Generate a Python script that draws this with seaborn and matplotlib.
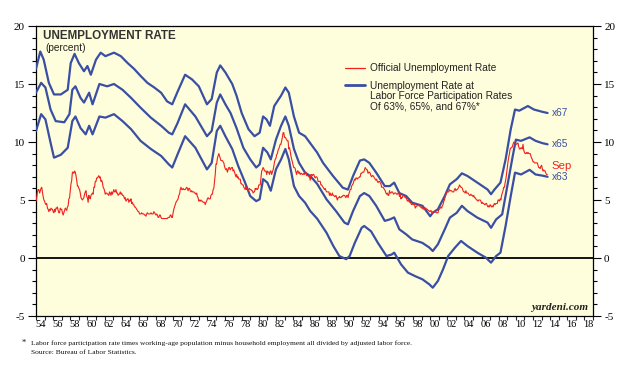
import numpy as np
import pandas as pd
import matplotlib
matplotlib.use("Agg")
import matplotlib.pyplot as plt
import seaborn as sns
from matplotlib.ticker import FixedLocator, MultipleLocator
from matplotlib.lines import Line2D

# ---------------- data ----------------
official_start = 1954
official_rate = [
    4.9, 5.2, 5.7, 5.9, 5.9, 5.6, 5.8, 6.0, 6.1, 5.7, 5.3, 5.0,   # 1954
    4.9, 4.7, 4.6, 4.7, 4.3, 4.2, 4.0, 4.2, 4.1, 4.3, 4.2, 4.2,   # 1955
    4.0, 3.9, 4.2, 4.0, 4.3, 4.3, 4.4, 4.1, 3.9, 3.9, 4.3, 4.2,   # 1956
    4.2, 3.9, 3.7, 3.9, 4.1, 4.3, 4.2, 4.1, 4.4, 4.5, 5.1, 5.2,   # 1957
    5.8, 6.4, 6.7, 7.4, 7.4, 7.3, 7.5, 7.4, 7.1, 6.7, 6.2, 6.2,   # 1958
    6.0, 5.9, 5.6, 5.2, 5.1, 5.0, 5.1, 5.2, 5.5, 5.7, 5.8, 5.3,   # 1959
    5.2, 4.8, 5.4, 5.2, 5.1, 5.4, 5.5, 5.6, 5.5, 6.1, 6.1, 6.6,   # 1960
    6.6, 6.9, 6.9, 7.0, 7.1, 6.9, 7.0, 6.6, 6.7, 6.5, 6.1, 6.0,   # 1961
    5.8, 5.5, 5.6, 5.6, 5.5, 5.5, 5.4, 5.7, 5.6, 5.4, 5.7, 5.5,   # 1962
    5.7, 5.9, 5.7, 5.7, 5.9, 5.6, 5.6, 5.4, 5.5, 5.5, 5.7, 5.5,   # 1963
    5.6, 5.4, 5.4, 5.3, 5.1, 5.2, 4.9, 5.0, 5.1, 5.1, 4.8, 5.0,   # 1964
    4.9, 5.1, 4.7, 4.8, 4.6, 4.6, 4.4, 4.4, 4.3, 4.2, 4.1, 4.0,   # 1965
    4.0, 3.8, 3.8, 3.8, 3.9, 3.8, 3.8, 3.8, 3.7, 3.7, 3.6, 3.8,   # 1966
    3.9, 3.8, 3.8, 3.8, 3.8, 3.9, 3.8, 3.8, 3.8, 4.0, 3.9, 3.8,   # 1967
    3.7, 3.8, 3.7, 3.5, 3.5, 3.7, 3.7, 3.5, 3.4, 3.4, 3.4, 3.4,   # 1968
    3.4, 3.4, 3.4, 3.4, 3.4, 3.5, 3.5, 3.5, 3.7, 3.7, 3.5, 3.5,   # 1969
    3.9, 4.2, 4.4, 4.6, 4.8, 4.9, 5.0, 5.1, 5.4, 5.5, 5.9, 6.1,   # 1970
    5.9, 5.9, 6.0, 5.9, 5.9, 5.9, 6.0, 6.1, 6.0, 5.8, 6.0, 6.0,   # 1971
    5.8, 5.7, 5.8, 5.7, 5.7, 5.7, 5.6, 5.6, 5.5, 5.6, 5.3, 5.2,   # 1972
    4.9, 5.0, 4.9, 5.0, 4.9, 4.9, 4.8, 4.8, 4.8, 4.6, 4.8, 4.9,   # 1973
    5.1, 5.2, 5.1, 5.1, 5.1, 5.4, 5.5, 5.5, 5.9, 6.0, 6.6, 7.2,   # 1974
    8.1, 8.1, 8.6, 8.8, 9.0, 8.8, 8.6, 8.4, 8.4, 8.4, 8.3, 8.2,   # 1975
    7.9, 7.7, 7.6, 7.7, 7.4, 7.6, 7.8, 7.8, 7.6, 7.7, 7.8, 7.8,   # 1976
    7.5, 7.6, 7.4, 7.2, 7.0, 7.2, 6.9, 7.0, 6.8, 6.8, 6.8, 6.4,   # 1977
    6.4, 6.3, 6.3, 6.1, 6.0, 5.9, 6.2, 5.9, 6.0, 5.8, 5.9, 6.0,   # 1978
    5.9, 5.9, 5.8, 5.8, 5.6, 5.7, 5.7, 6.0, 5.9, 6.0, 5.9, 6.0,   # 1979
    6.3, 6.3, 6.3, 6.9, 7.5, 7.6, 7.8, 7.7, 7.5, 7.5, 7.5, 7.2,   # 1980
    7.5, 7.4, 7.4, 7.2, 7.5, 7.5, 7.2, 7.4, 7.6, 7.9, 8.3, 8.5,   # 1981
    8.6, 8.9, 9.0, 9.3, 9.4, 9.6, 9.8, 9.8, 10.1, 10.4, 10.8, 10.8,  # 1982
    10.4, 10.4, 10.3, 10.2, 10.1, 10.1, 9.4, 9.5, 9.2, 8.8, 8.5, 8.3,  # 1983
    8.0, 7.8, 7.8, 7.7, 7.4, 7.2, 7.5, 7.5, 7.3, 7.4, 7.2, 7.3,   # 1984
    7.3, 7.2, 7.2, 7.3, 7.2, 7.4, 7.4, 7.1, 7.1, 7.1, 7.0, 7.0,   # 1985
    6.7, 7.2, 7.2, 7.1, 7.2, 7.2, 7.0, 6.9, 7.0, 7.0, 6.9, 6.6,   # 1986
    6.6, 6.6, 6.6, 6.3, 6.3, 6.2, 6.1, 6.0, 5.9, 6.0, 5.8, 5.7,   # 1987
    5.7, 5.7, 5.7, 5.4, 5.6, 5.4, 5.4, 5.6, 5.4, 5.4, 5.3, 5.3,   # 1988
    5.4, 5.2, 5.0, 5.2, 5.2, 5.3, 5.2, 5.2, 5.3, 5.3, 5.4, 5.4,   # 1989
    5.4, 5.3, 5.2, 5.4, 5.4, 5.2, 5.5, 5.7, 5.9, 5.9, 6.2, 6.3,   # 1990
    6.4, 6.6, 6.8, 6.7, 6.9, 6.9, 6.8, 6.9, 6.9, 7.0, 7.0, 7.3,   # 1991
    7.3, 7.4, 7.4, 7.4, 7.6, 7.8, 7.7, 7.6, 7.6, 7.3, 7.4, 7.4,   # 1992
    7.3, 7.1, 7.0, 7.1, 7.1, 7.0, 6.9, 6.8, 6.7, 6.8, 6.6, 6.5,   # 1993
    6.6, 6.6, 6.5, 6.4, 6.1, 6.1, 6.1, 6.0, 5.9, 5.8, 5.6, 5.5,   # 1994
    5.6, 5.4, 5.4, 5.8, 5.6, 5.6, 5.7, 5.7, 5.6, 5.5, 5.6, 5.6,   # 1995
    5.6, 5.5, 5.5, 5.6, 5.6, 5.3, 5.5, 5.1, 5.2, 5.2, 5.4, 5.4,   # 1996
    5.3, 5.2, 5.2, 5.1, 4.9, 5.0, 4.9, 4.8, 4.9, 4.7, 4.6, 4.7,   # 1997
    4.6, 4.6, 4.7, 4.3, 4.4, 4.5, 4.5, 4.5, 4.6, 4.5, 4.4, 4.4,   # 1998
    4.3, 4.4, 4.2, 4.3, 4.2, 4.3, 4.3, 4.2, 4.2, 4.1, 4.1, 4.0,   # 1999
    4.0, 4.1, 4.0, 3.8, 4.0, 4.0, 4.0, 4.1, 3.9, 3.9, 3.9, 3.9,   # 2000
    4.2, 4.2, 4.3, 4.4, 4.3, 4.5, 4.6, 4.9, 5.0, 5.3, 5.5, 5.7,   # 2001
    5.7, 5.7, 5.7, 5.9, 5.8, 5.8, 5.8, 5.7, 5.7, 5.7, 5.9, 6.0,   # 2002
    5.8, 5.9, 5.9, 6.0, 6.1, 6.3, 6.2, 6.1, 6.1, 6.0, 5.8, 5.7,   # 2003
    5.7, 5.6, 5.8, 5.6, 5.6, 5.6, 5.5, 5.4, 5.4, 5.5, 5.4, 5.4,   # 2004
    5.3, 5.4, 5.2, 5.2, 5.1, 5.0, 5.0, 4.9, 5.0, 5.0, 5.0, 4.9,   # 2005
    4.7, 4.8, 4.7, 4.7, 4.6, 4.6, 4.7, 4.7, 4.5, 4.4, 4.5, 4.4,   # 2006
    4.6, 4.5, 4.4, 4.5, 4.4, 4.6, 4.7, 4.6, 4.7, 4.7, 4.7, 5.0,   # 2007
    5.0, 4.9, 5.1, 5.0, 5.4, 5.6, 5.8, 6.1, 6.1, 6.5, 6.8, 7.3,   # 2008
    7.8, 8.3, 8.7, 9.0, 9.4, 9.5, 9.5, 9.6, 9.8, 10.0, 9.9, 9.9,  # 2009
    9.8, 9.8, 9.9, 9.9, 9.6, 9.4, 9.4, 9.5, 9.5, 9.4, 9.8, 9.3,   # 2010
    9.1, 9.0, 9.0, 9.1, 9.0, 9.1, 9.0, 9.0, 9.0, 8.8, 8.6, 8.5,   # 2011
    8.3, 8.3, 8.2, 8.2, 8.2, 8.2, 8.2, 8.0, 7.8, 7.8, 7.7, 7.9,   # 2012
    8.0, 7.7, 7.5, 7.6, 7.5, 7.5, 7.3, 7.2, 7.2,                  # 2013 (to Sep)
]

x67_years = [1954.0, 1954.5, 1954.9, 1955.5, 1956.1, 1956.9, 1957.7, 1958.05, 1958.5, 1959.0,
             1959.6, 1960.0, 1960.4, 1961.0, 1961.55, 1962.1, 1963.1, 1963.9, 1964.7, 1965.45,
             1966.2, 1967.0, 1967.8, 1968.6, 1969.3, 1969.9, 1970.5, 1971.4, 1972.2, 1973.0,
             1973.95, 1974.5, 1975.1, 1975.5, 1976.1, 1976.9, 1977.4, 1978.0, 1978.8, 1979.5,
             1980.1, 1980.5, 1980.9, 1981.3, 1981.8, 1982.6, 1983.1, 1983.5, 1984.1, 1984.7,
             1985.4, 1986.0, 1986.8, 1987.5, 1988.66, 1989.8, 1990.4, 1991.0, 1991.8, 1992.3,
             1992.9, 1993.7, 1994.7, 1995.3, 1995.8, 1996.4, 1997.2, 1997.9, 1999.1, 2000.0,
             2000.3, 2000.9, 2001.7, 2002.3, 2003.1, 2003.7, 2004.35, 2005.5, 2006.7, 2007.1,
             2007.5, 2008.2, 2008.8, 2009.4, 2009.9, 2010.4, 2011.4, 2012.1, 2013.1, 2013.7]
x67_vals = [16.3, 17.8, 17.1, 15.1, 14.1, 14.1, 14.5, 16.8, 17.6, 16.8,
            16.1, 16.55, 15.8, 17.1, 17.7, 17.4, 17.7, 17.4, 16.8, 16.3,
            15.7, 15.1, 14.7, 14.25, 13.5, 13.25, 14.3, 15.8, 15.4, 14.8,
            13.25, 13.7, 16.0, 16.6, 16.0, 15.0, 14.0, 12.5, 11.1, 10.5,
            10.8, 12.2, 11.95, 11.4, 13.1, 14.0, 14.7, 14.25, 12.2, 10.8,
            10.5, 9.9, 9.1, 8.2, 7.07, 6.06, 5.9, 7.07, 8.4, 8.5,
            8.2, 7.36, 6.2, 6.2, 6.5, 5.6, 5.34, 4.77, 4.5, 3.6,
            3.9, 4.2, 5.34, 6.35, 6.8, 7.3, 7.07, 6.5, 5.9, 5.5,
            5.9, 6.5, 8.5, 11.1, 12.8, 12.7, 13.1, 12.8, 12.6, 12.5]

x65_years = [1954.0, 1954.6, 1955.1, 1955.7, 1956.3, 1957.3, 1957.9, 1958.24, 1958.6, 1959.2,
             1959.6, 1960.2, 1960.6, 1961.4, 1962.3, 1963.1, 1964.1, 1965.1, 1966.2, 1967.4,
             1968.6, 1969.5, 1969.9, 1970.5, 1971.4, 1972.6, 1973.95, 1974.5, 1975.1, 1975.5,
             1976.1, 1976.7, 1977.4, 1978.2, 1979.0, 1979.7, 1980.1, 1980.5, 1981.0, 1981.4,
             1982.0, 1982.6, 1983.1, 1983.5, 1984.1, 1984.7, 1985.4, 1986.0, 1986.8, 1987.9,
             1989.0, 1990.0, 1990.4, 1991.0, 1991.8, 1992.3, 1992.9, 1993.7, 1994.7, 1995.3,
             1995.8, 1996.4, 1997.2, 1997.9, 1999.1, 1999.9, 2000.3, 2000.9, 2001.7, 2002.3,
             2003.1, 2003.7, 2004.35, 2005.5, 2006.7, 2007.1, 2007.7, 2008.4, 2009.0, 2009.6,
             2010.0, 2010.6, 2011.6, 2012.3, 2013.1, 2013.7]
x65_vals = [14.25, 15.1, 14.7, 12.8, 11.8, 11.7, 12.4, 14.5, 14.8, 13.8,
            13.4, 14.25, 13.25, 15.0, 14.8, 15.0, 14.5, 13.8, 12.96, 12.1,
            11.4, 10.8, 10.66, 11.6, 13.25, 12.2, 10.5, 10.95, 13.4, 14.1,
            13.25, 12.5, 11.2, 9.5, 8.5, 7.8, 8.07, 9.5, 9.1, 8.5,
            10.2, 11.4, 12.2, 11.4, 9.4, 8.2, 7.36, 7.07, 6.4, 5.06,
            4.05, 3.05, 2.9, 4.05, 5.34, 5.6, 5.34, 4.5, 3.2, 3.33,
            3.5, 2.47, 2.04, 1.6, 1.3, 0.9, 0.6, 1.18, 2.47, 3.48,
            3.9, 4.5, 4.05, 3.48, 3.05, 2.6, 3.33, 3.76, 6.2, 8.65,
            10.2, 10.1, 10.4, 10.1, 9.9, 9.8]

x63_years = [1954.0, 1954.6, 1955.1, 1955.7, 1956.1, 1956.9, 1957.7, 1958.24, 1958.6, 1959.2,
             1959.8, 1960.2, 1960.6, 1961.4, 1962.1, 1963.1, 1964.1, 1965.1, 1966.2, 1967.4,
             1968.6, 1969.5, 1969.9, 1970.5, 1971.4, 1972.6, 1973.95, 1974.5, 1975.1, 1975.5,
             1976.1, 1976.9, 1977.6, 1978.4, 1979.0, 1979.7, 1980.1, 1980.5, 1981.0, 1981.4,
             1982.0, 1982.6, 1983.1, 1983.5, 1984.1, 1984.7, 1985.4, 1986.0, 1986.8, 1987.9,
             1988.7, 1989.4, 1990.2, 1990.6, 1991.2, 1992.0, 1992.3, 1993.1, 1993.9, 1994.9,
             1995.5, 1995.8, 1996.6, 1997.4, 1998.2, 1999.1, 1999.9, 2000.3, 2000.9, 2001.5,
             2002.1, 2002.9, 2003.6, 2004.35, 2005.5, 2006.5, 2007.1, 2007.7, 2008.2, 2008.8,
             2009.4, 2009.9, 2010.6, 2011.6, 2012.3, 2013.1, 2013.7]
x63_vals = [10.95, 12.4, 11.95, 9.94, 8.65, 8.9, 9.5, 11.8, 12.2, 11.2,
            10.66, 11.4, 10.66, 12.2, 12.1, 12.4, 11.8, 11.1, 10.1, 9.4,
            8.8, 8.07, 7.8, 8.9, 10.5, 9.5, 7.64, 8.2, 10.95, 11.4,
            10.5, 9.4, 7.93, 6.5, 5.34, 4.9, 5.06, 6.8, 6.5, 5.8,
            7.64, 8.5, 9.4, 8.5, 6.2, 5.34, 4.77, 4.05, 3.4, 2.18,
            1.03, 0.17, -0.1, 0.17, 1.3, 2.6, 2.76, 2.3, 1.3, 0.17,
            0.3, 0.46, -0.55, -1.26, -1.55, -1.84, -2.27, -2.56, -1.98, -0.98,
            0.17, 0.9, 1.47, 1.03, 0.46, 0.03, -0.4, 0.17, 0.46, 2.76,
            5.34, 7.36, 7.2, 7.6, 7.2, 7.1, 7.0]

year_labels = [str(y % 100).zfill(2) for y in range(1954, 2019, 2)]
y_ticks = [-5, 0, 5, 10, 15, 20]

# ---------------- frames ----------------
official_df = pd.DataFrame({
    "year": official_start + np.arange(len(official_rate)) / 12.0,
    "rate": official_rate,
})
blue_df = pd.concat([
    pd.DataFrame({"year": x67_years, "rate": x67_vals, "series": "x67"}),
    pd.DataFrame({"year": x65_years, "rate": x65_vals, "series": "x65"}),
    pd.DataFrame({"year": x63_years, "rate": x63_vals, "series": "x63"}),
])

# ---------------- figure ----------------
sns.set_style("white")
plt.rcParams["font.family"] = ["Liberation Sans", "DejaVu Sans"]
plt.rcParams["axes.unicode_minus"] = False

BLUE = "#3A4FA3"
RED = "#F0211E"
BG = "#FEFEDD"

fig = plt.figure(figsize=(6.33, 3.68), dpi=100)
ax = fig.add_axes([36 / 633, 1 - 316 / 368, 557 / 633, 290 / 368])
ax.set_facecolor(BG)

ax.axhline(0, color="black", lw=1.3, zorder=2)

sns.lineplot(data=blue_df, x="year", y="rate", units="series", estimator=None,
             color=BLUE, lw=1.6, sort=False, ax=ax, zorder=3)
sns.lineplot(data=official_df, x="year", y="rate", color=RED, lw=0.8,
             estimator=None, ax=ax, zorder=4)

ax.set_xlim(1954, 2019)
ax.set_ylim(-5, 20)
ax.set_xlabel("")
ax.set_ylabel("")

# spines
for s in ["left", "right", "bottom"]:
    ax.spines[s].set_visible(True)
    ax.spines[s].set_color("black")
    ax.spines[s].set_linewidth(0.9)
ax.spines["top"].set_visible(True)
ax.spines["top"].set_color("black")
ax.spines["top"].set_linewidth(0.9)
ax.spines["top"].set_linestyle((0, (1.2, 0.8)))

# y ticks both sides
ax.yaxis.set_major_locator(FixedLocator(y_ticks))
ax.yaxis.set_minor_locator(MultipleLocator(1))
ax.tick_params(axis="y", which="both", left=True, right=True, labelleft=True,
               labelright=True, direction="out", colors="black")
ax.tick_params(axis="y", which="major", length=6, width=0.8, labelsize=8, pad=2)
ax.tick_params(axis="y", which="minor", length=3, width=0.8)
for lab in ax.get_yticklabels():
    lab.set_family("Liberation Serif")

# x ticks: labels centred in the year, marks at year boundaries
label_pos = [y + 0.5 for y in range(1954, 2019, 2)]
ax.xaxis.set_major_locator(FixedLocator(label_pos))
ax.set_xticklabels(year_labels)
ax.xaxis.set_minor_locator(FixedLocator(list(range(1954, 2020))))
ax.tick_params(axis="x", which="major", length=0, labelsize=7.5, pad=3, colors="black")
ax.tick_params(axis="x", which="minor", length=3, width=0.8, bottom=True, direction="out")
for lab in ax.get_xticklabels():
    lab.set_family("Liberation Serif")

# titles
ax.text(0.012, 0.966, "UNEMPLOYMENT RATE", transform=ax.transAxes, fontsize=8.4,
        fontweight="bold", color="#333333", va="center", ha="left")
ax.text(0.016, 0.924, "(percent)", transform=ax.transAxes, fontsize=7.3,
        color="#222222", va="center", ha="left")

# legend (two blocks so the spacing matches)
leg1 = ax.legend([Line2D([], [], color=RED, lw=0.9)], ["Official Unemployment Rate"],
                 loc="upper left", bbox_to_anchor=(0.5548, 0.871), frameon=False,
                 fontsize=7.3, handlelength=2.0, handletextpad=0.5, borderpad=0,
                 borderaxespad=0)
for t in leg1.get_texts():
    t.set_color("#222222")
ax.add_artist(leg1)

blank = Line2D([], [], color="none", lw=0)
leg2 = ax.legend([Line2D([], [], color=BLUE, lw=2.0), blank, blank],
                 ["Unemployment Rate at", "Labor Force Participation Rates",
                  "Of 63%, 65%, and 67%*"],
                 loc="upper left", bbox_to_anchor=(0.5548, 0.812), frameon=False,
                 fontsize=7.3, handlelength=2.0, handletextpad=0.5, borderpad=0,
                 borderaxespad=0, labelspacing=0.05)
for t in leg2.get_texts():
    t.set_color("#222222")

# end labels
ax.text(official_df["year"].iloc[-1] + 0.5, 7.9, "Sep", color=RED, fontsize=8.2,
        va="center", ha="left")
ax.text(x67_years[-1] + 0.5, x67_vals[-1], "x67", color=BLUE, fontsize=7.3, va="center")
ax.text(x65_years[-1] + 0.5, x65_vals[-1], "x65", color=BLUE, fontsize=7.3, va="center")
ax.text(x63_years[-1] + 0.5, x63_vals[-1], "x63", color=BLUE, fontsize=7.3, va="center")

ax.text(0.992, 0.014, "yardeni.com", transform=ax.transAxes, fontsize=8.0,
        fontstyle="italic", fontweight="bold", family="Liberation Serif",
        color="#222222", ha="right", va="bottom")

# footnote
fig.text(22 / 633, 1 - 343 / 368, "*", fontsize=6.0, family="Liberation Serif",
         va="center", ha="left", color="#111111")
fig.text(31 / 633, 1 - 343 / 368,
         "Labor force participation rate times working-age population minus household employment all divided by adjusted labor force.",
         fontsize=5.4, family="Liberation Serif", va="center", ha="left", color="#111111")
fig.text(31 / 633, 1 - 353 / 368, "Source: Bureau of Labor Statistics.",
         fontsize=5.4, family="Liberation Serif", va="center", ha="left", color="#111111")

fig.savefig("out.png", dpi=100, facecolor="white")
